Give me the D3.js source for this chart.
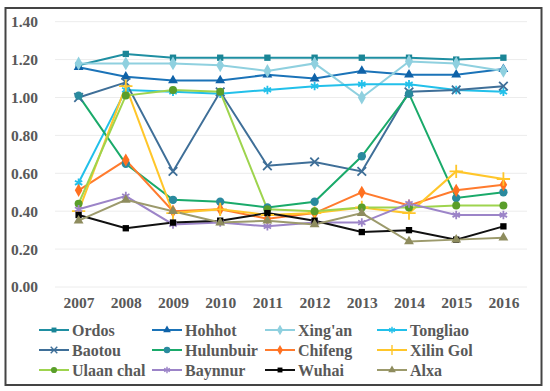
<!DOCTYPE html>
<html>
<head>
<meta charset="utf-8">
<script src="https://cdn.jsdelivr.net/npm/d3@7"></script>
<style>
  body { margin: 0; background: #fff; }
  svg { display: block; }
  svg text { font-family: "Liberation Serif", "DejaVu Serif", "Times New Roman", serif !important; font-weight: bold; fill: #595959; }
</style>
</head>
<body>
<div id="chart"></div>
<script>
let years = ["2007", "2008", "2009", "2010", "2011", "2012", "2013", "2014", "2015", "2016"];
let yTicks = [0, 0.2, 0.4, 0.6, 0.8, 1.0, 1.2, 1.4];

let ordos     = [1.17, 1.23, 1.21, 1.21, 1.21, 1.21, 1.21, 1.21, 1.20, 1.21];
let hohhot    = [1.16, 1.11, 1.09, 1.09, 1.12, 1.10, 1.14, 1.12, 1.12, 1.15];
let xingan    = [1.18, 1.18, 1.18, 1.17, 1.14, 1.18, 1.00, 1.19, 1.18, 1.14];
let tongliao  = [0.55, 1.04, 1.03, 1.02, 1.04, 1.06, 1.07, 1.07, 1.04, 1.03];
let baotou    = [1.00, 1.08, 0.61, 1.03, 0.64, 0.66, 0.61, 1.03, 1.04, 1.06];
let hulunbuir = [1.01, 0.65, 0.46, 0.45, 0.42, 0.45, 0.69, 1.02, 0.47, 0.50];
let chifeng   = [0.51, 0.67, 0.40, 0.41, 0.36, 0.39, 0.50, 0.43, 0.51, 0.54];
let xilingol  = [0.40, 1.06, 0.39, 0.41, 0.38, 0.39, 0.42, 0.39, 0.61, 0.57];
let ulaanchal = [0.44, 1.01, 1.04, 1.03, 0.41, 0.40, 0.42, 0.42, 0.43, 0.43];
let baynnur   = [0.41, 0.48, 0.33, 0.34, 0.32, 0.34, 0.34, 0.44, 0.38, 0.38];
let wuhai     = [0.38, 0.31, 0.34, 0.35, 0.39, 0.35, 0.29, 0.30, 0.25, 0.32];
let alxa      = [0.35, 0.46, 0.40, 0.34, 0.35, 0.33, 0.39, 0.24, 0.25, 0.26];

let names = ["Ordos", "Hohhot", "Xing'an", "Tongliao", "Baotou", "Hulunbuir",
             "Chifeng", "Xilin Gol", "Ulaan chal", "Baynnur", "Wuhai", "Alxa"];

let series = [
  { name: names[0],  values: ordos,     line: "#1f8fa2", fill: "#1a8596", sym: d3.symbolSquare,   size: 40, stroke: false },
  { name: names[1],  values: hohhot,    line: "#1b73b8", fill: "#0f62a8", sym: d3.symbolTriangle, size: 42, stroke: false },
  { name: names[2],  values: xingan,    line: "#8fd0df", fill: "#8fd0df", sym: d3.symbolDiamond,  size: 55, stroke: false },
  { name: names[3],  values: tongliao,  line: "#22c0ea", fill: "#22c0ea", sym: d3.symbolAsterisk, size: 50, stroke: true },
  { name: names[4],  values: baotou,    line: "#3f6f98", fill: "#3f6f98", sym: d3.symbolTimes,    size: 50, stroke: true },
  { name: names[5],  values: hulunbuir, line: "#1aaa6a", fill: "#2a8a9e", sym: d3.symbolCircle,   size: 55, stroke: false },
  { name: names[6],  values: chifeng,   line: "#ff7b2e", fill: "#ff7020", sym: d3.symbolDiamond,  size: 50, stroke: false },
  { name: names[7],  values: xilingol,  line: "#ffc62a", fill: "#ffc62a", sym: d3.symbolPlus,     size: 60, stroke: true },
  { name: names[8],  values: ulaanchal, line: "#9ed44e", fill: "#5a9e2a", sym: d3.symbolCircle,   size: 50, stroke: false },
  { name: names[9],  values: baynnur,   line: "#9c84c8", fill: "#9c84c8", sym: d3.symbolAsterisk, size: 50, stroke: true },
  { name: names[10], values: wuhai,     line: "#111111", fill: "#000000", sym: d3.symbolSquare,   size: 40, stroke: false },
  { name: names[11], values: alxa,      line: "#9c9a6c", fill: "#8e8c5e", sym: d3.symbolTriangle, size: 42, stroke: false }
];

let width = 550, height = 391;
let serif = '"Liberation Serif", "DejaVu Serif", serif';

let svg = d3.select('#chart')
    .append('svg')
    .attr('width', width)
    .attr('height', height);

// frame
svg.append('rect')
    .attr('x', 5.5).attr('y', 8)
    .attr('width', 536).attr('height', 377)
    .attr('fill', '#fff')
    .attr('stroke', '#444')
    .attr('stroke-width', 2);

let x = d3.scalePoint()
    .domain(years)
    .range([55, 527])
    .padding(0.5);

let y = d3.scaleLinear()
    .domain([0, 1.4])
    .range([287, 21.7]);

// grid
svg.append('g')
    .selectAll('line')
    .data(yTicks)
    .enter().append('line')
    .attr('x1', 55).attr('x2', 527)
    .attr('y1', d => y(d)).attr('y2', d => y(d))
    .attr('stroke', '#ececec')
    .attr('stroke-width', 1);

let yAxis = d3.axisLeft(y)
    .tickValues(yTicks)
    .tickFormat(d3.format('.2f'))
    .tickSize(0)
    .tickPadding(0);
let gy = svg.append('g')
    .attr('transform', 'translate(38,0)')
    .call(yAxis)
    .attr('font-family', serif);
gy.select('.domain').remove();
gy.selectAll('text').style('font-size', '15.5px').attr('fill', '#595959');

let xAxis = d3.axisBottom(x).tickSize(0).tickPadding(0);
let gx = svg.append('g')
    .attr('transform', 'translate(0,297)')
    .call(xAxis)
    .attr('font-family', serif);
gx.select('.domain').remove();
gx.selectAll('text').style('font-size', '15.5px').attr('fill', '#595959');

let line = d3.line()
    .x((d, i) => x(years[i]))
    .y(d => y(d));

series.forEach(function (s) {
    svg.append('path')
        .datum(s.values)
        .attr('d', line)
        .attr('fill', 'none')
        .attr('stroke', s.line)
        .attr('stroke-width', 2);
});

series.forEach(function (s) {
    let sym = d3.symbol().type(s.sym).size(s.size);
    svg.append('g')
        .selectAll('path')
        .data(s.values)
        .enter().append('path')
        .attr('d', sym)
        .attr('transform', (d, i) => 'translate(' + x(years[i]) + ',' + y(d) + ')')
        .attr('fill', s.stroke ? 'none' : s.fill)
        .attr('stroke', s.stroke ? s.fill : 'none')
        .attr('stroke-width', s.stroke ? 1.8 : 0);
});

// legend
let legX = [39, 152, 265, 377];
let legY = [330, 350, 370];
let leg = svg.append('g').attr('font-family', serif);
series.forEach(function (s, i) {
    let lx = legX[i % 4], ly = legY[Math.floor(i / 4)];
    let g = leg.append('g').attr('transform', 'translate(' + lx + ',' + ly + ')');
    g.append('line')
        .attr('x1', 0).attr('x2', 30)
        .attr('stroke', s.line)
        .attr('stroke-width', 2);
    g.append('path')
        .attr('d', d3.symbol().type(s.sym).size(s.size * 0.6))
        .attr('transform', 'translate(15,0)')
        .attr('fill', s.stroke ? 'none' : s.fill)
        .attr('stroke', s.stroke ? s.fill : 'none')
        .attr('stroke-width', s.stroke ? 1.4 : 0);
    g.append('text')
        .attr('x', 33)
        .attr('dy', '0.35em')
        .style('font-size', '16px')
        .text(s.name);
});
</script>
</body>
</html>
